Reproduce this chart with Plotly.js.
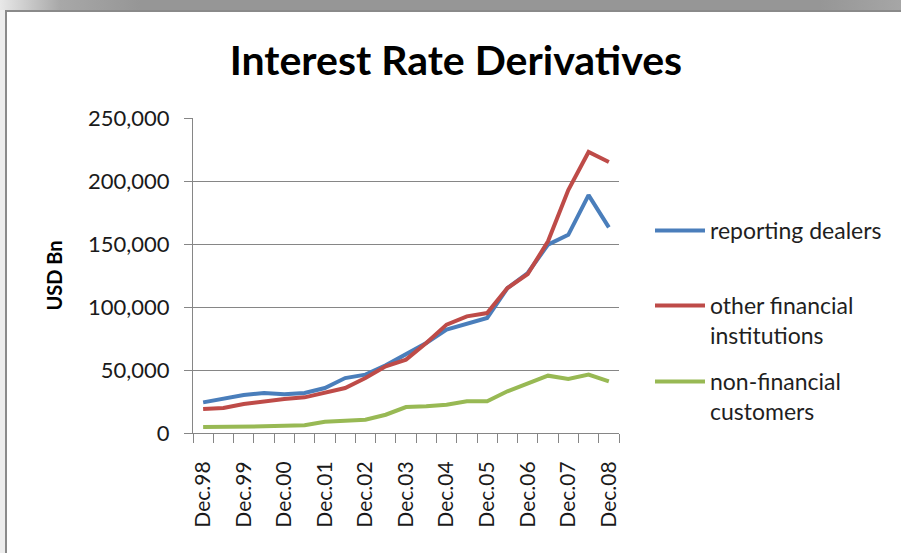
<!DOCTYPE html>
<html>
<head>
<meta charset="utf-8">
<script src="https://cdn.plot.ly/plotly-3.0.1.min.js"></script>
<style>
  html, body { margin: 0; padding: 0; background: #ffffff; }
  #wrap { position: relative; width: 901px; height: 553px; overflow: hidden; background: #ffffff; }
  #topband { position: absolute; left: 0; top: 0; width: 901px; height: 10px;
    background: linear-gradient(to right, #e8e8e8 0px, #a8a8a8 60px, #969696 140px, #969696 820px, #a6a6a6 901px); }
  #topline { position: absolute; left: 5px; top: 10px; width: 896px; height: 2px; background: #8a8a8a; }
  #leftband { position: absolute; left: 0; top: 10px; width: 5px; height: 543px; background: #ededed; }
  #leftline { position: absolute; left: 5px; top: 10px; width: 2px; height: 543px; background: #8a8a8a; }
  #chart { position: absolute; left: 0; top: 0; width: 901px; height: 553px; }
</style>
</head>
<body>
<div id="wrap">
  <div id="topband"></div>
  <div id="leftband"></div>
  <div id="topline"></div>
  <div id="leftline"></div>
  <div id="chart"></div>
</div>
<script>
const categories = ["Dec.98","Jun.99","Dec.99","Jun.00","Dec.00","Jun.01","Dec.01","Jun.02","Dec.02","Jun.03","Dec.03","Jun.04","Dec.04","Jun.05","Dec.05","Jun.06","Dec.06","Jun.07","Dec.07","Jun.08","Dec.08"];
const reportingDealers = [24300, 27200, 30200, 31800, 30700, 31800, 35700, 43600, 46300, 53700, 62700, 71400, 82000, 86500, 91300, 115000, 127000, 149500, 157300, 188800, 163200];
const otherFinancial = [19000, 19800, 23000, 25100, 27000, 28300, 32300, 35700, 43600, 52900, 58200, 71400, 86000, 92600, 95200, 115000, 126200, 152100, 192800, 223000, 215100];
const nonFinancial = [4800, 4800, 4800, 5300, 5800, 6100, 9000, 9800, 10600, 14500, 20600, 21200, 22500, 25100, 25100, 33100, 38900, 45500, 42800, 46400, 41000];
const seriesNames = ["reporting dealers", "other financial<br>institutions", "non-financial<br>customers"];

// positions along the category axis (index of each period) and the labelled periods
const xIndex = categories.map((c, i) => i);
const labelIdx = xIndex.filter(i => categories[i].indexOf("Dec") === 0);
const labelText = labelIdx.map(i => categories[i]);

const FONT = "Lato, 'Open Sans', sans-serif";
const GRID = "#868686";

const traces = [
  { x: xIndex, y: reportingDealers, text: categories, name: seriesNames[0], type: "scatter", mode: "lines",
    line: { color: "#4A7EBB", width: 4 }, legend: "legend" },
  { x: xIndex, y: otherFinancial, text: categories, name: seriesNames[1], type: "scatter", mode: "lines",
    line: { color: "#BE4B48", width: 4 }, legend: "legend2" },
  { x: xIndex, y: nonFinancial, text: categories, name: seriesNames[2], type: "scatter", mode: "lines",
    line: { color: "#98B954", width: 4 }, legend: "legend3" }
];

const legendCommon = {
  xref: "container", yref: "container", xanchor: "left", yanchor: "top",
  bgcolor: "rgba(0,0,0,0)", borderwidth: 0, valign: "top", itemwidth: 50,
  font: { family: FONT, size: 23, color: "#1f1f1f" }, itemclick: false, itemdoubleclick: false
};

const layout = {
  width: 901, height: 553,
  margin: { l: 193, r: 282, t: 118, b: 120, pad: 0 },
  paper_bgcolor: "rgba(0,0,0,0)",
  plot_bgcolor: "rgba(0,0,0,0)",
  showlegend: true,
  title: {
    text: "<b>Interest Rate Derivatives</b>",
    font: { family: FONT, size: 41, color: "#000000" },
    xref: "container", x: 0.506, xanchor: "center",
    yref: "container", y: 1 - 61 / 553, yanchor: "middle"
  },
  xaxis: {
    type: "linear",
    range: [-0.5, categories.length - 0.5],
    tickmode: "array", tickvals: labelIdx, ticktext: labelText,
    ticks: "outside", ticklen: 0, tickcolor: GRID, tickwidth: 1,
    minor: { tick0: -0.5, dtick: 1, ticks: "outside", ticklen: 9, tickcolor: GRID, tickwidth: 1, showgrid: false },
    tickangle: -90,
    tickfont: { family: FONT, size: 21, color: "#1a1a1a" },
    ticklabelstandoff: 19,
    showline: true, linecolor: GRID, linewidth: 1,
    showgrid: false, zeroline: false, fixedrange: true
  },
  yaxis: {
    range: [0, 250000], dtick: 50000, tick0: 0,
    tickformat: ",d",
    ticks: "outside", ticklen: 8, tickcolor: GRID, tickwidth: 1,
    tickfont: { family: FONT, size: 22, color: "#1a1a1a" },
    ticklabelstandoff: 10,
    showline: true, linecolor: GRID, linewidth: 1,
    showgrid: true, gridcolor: GRID, gridwidth: 1,
    zeroline: false, fixedrange: true,
    title: { text: "<b>USD Bn</b>", font: { family: FONT, size: 20, color: "#000000" }, standoff: 20 }
  },
  legend: Object.assign({}, legendCommon, { x: 650 / 901, y: 1 - 209 / 553 }),
  legend2: Object.assign({}, legendCommon, { x: 650 / 901, y: 1 - 284 / 553 }),
  legend3: Object.assign({}, legendCommon, { x: 650 / 901, y: 1 - 360 / 553 })
};

Plotly.newPlot("chart", traces, layout, { displayModeBar: false, staticPlot: true });
</script>
</body>
</html>
